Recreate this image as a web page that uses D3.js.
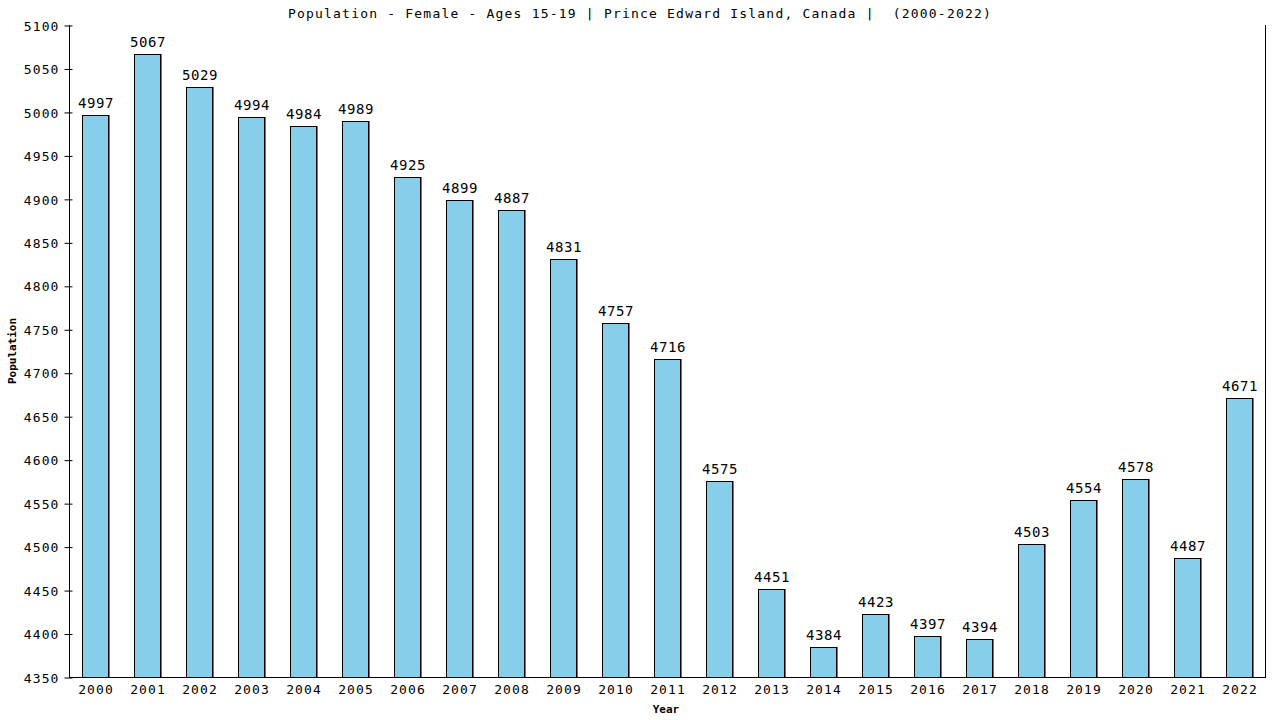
<!DOCTYPE html>
<html>
<head>
<meta charset="utf-8">
<script src="https://cdn.jsdelivr.net/npm/d3@7"></script>
<style>
  body { margin: 0; background: #fff; }
  text { font-family: "DejaVu Sans Mono", monospace; fill: #000; }
</style>
</head>
<body>
<script>
// data
var years = ["2000","2001","2002","2003","2004","2005","2006","2007","2008","2009","2010","2011",
             "2012","2013","2014","2015","2016","2017","2018","2019","2020","2021","2022"];
var population = [4997,5067,5029,4994,4984,4989,4925,4899,4887,4831,4757,4716,
                  4575,4451,4384,4423,4397,4394,4503,4554,4578,4487,4671];
var yTicks = [4350,4400,4450,4500,4550,4600,4650,4700,4750,4800,4850,4900,4950,5000,5050,5100];
var title = "Population - Female - Ages 15-19 | Prince Edward Island, Canada |  (2000-2022)";

var w = 1280, h = 720;
var pLeft = 69, pRight = 1265, pTop = 25, pBottom = 677;

var svg = d3.select("body").append("svg")
    .attr("width", w)
    .attr("height", h);

var x = d3.scaleBand()
    .domain(years)
    .range([pLeft, pRight])
    .paddingInner(0.5)
    .paddingOuter(0.25);

var y = d3.scaleLinear()
    .domain([4350, 5100])
    .range([pBottom, pTop]);

//title
svg.append("text")
    .attr("x", 640)
    .attr("y", 18)
    .attr("text-anchor", "middle")
    .style("font-size", "13px")
    .style("letter-spacing", "1.2px")
    .style("white-space", "pre")
    .text(title);

//bar shadows (thin blue edge on right/top)
svg.selectAll(".shadow")
    .data(population)
    .enter()
    .append("rect")
    .attr("class", "shadow")
    .attr("x", function(d, i){ return Math.round(x(years[i])) + 1.5; })
    .attr("y", function(d){ return Math.round(y(d)) - 0.5; })
    .attr("width", Math.round(x.bandwidth()))
    .attr("height", function(d){ return pBottom - Math.round(y(d)); })
    .style("fill", "#2f86b8")
    .attr("shape-rendering", "crispEdges");

//bars
svg.selectAll(".bar")
    .data(population)
    .enter()
    .append("rect")
    .attr("class", "bar")
    .attr("x", function(d, i){ return Math.round(x(years[i])) + 0.5; })
    .attr("y", function(d){ return Math.round(y(d)) + 0.5; })
    .attr("width", Math.round(x.bandwidth()))
    .attr("height", function(d){ return pBottom - Math.round(y(d)); })
    .style("fill", "#87ceeb")
    .style("stroke", "#000")
    .style("stroke-width", 1)
    .attr("shape-rendering", "crispEdges");

//value labels
svg.selectAll(".val")
    .data(population)
    .enter()
    .append("text")
    .attr("class", "val")
    .attr("x", function(d, i){ return x(years[i]) + x.bandwidth() / 2 + 1; })
    .attr("y", function(d){ return Math.round(y(d)) - 7; })
    .attr("text-anchor", "middle")
    .style("font-size", "14px")
    .style("letter-spacing", "0.6px")
    .text(function(d){ return d; });

//y axis
var yAxis = d3.axisLeft(y)
    .tickValues(yTicks)
    .tickSizeInner(5)
    .tickSizeOuter(0)
    .tickPadding(5)
    .tickFormat(d3.format("d"));

var gy = svg.append("g")
    .attr("transform", "translate(" + (pLeft + 0.5) + ",0.5)")
    .call(yAxis);
gy.select(".domain").remove();
gy.selectAll(".tick line").attr("x2", -5).attr("x1", 3).attr("stroke", "#000");
gy.selectAll(".tick text")
    .style("font-family", "DejaVu Sans Mono, monospace")
    .style("font-size", "13px")
    .style("letter-spacing", "1.1px")
    .attr("dy", "0.36em");

//x axis labels
var xAxis = d3.axisBottom(x).tickSize(0).tickPadding(8);
var gx = svg.append("g")
    .attr("transform", "translate(1," + pBottom + ")")
    .call(xAxis);
gx.select(".domain").remove();
gx.selectAll(".tick text")
    .style("font-family", "DejaVu Sans Mono, monospace")
    .style("font-size", "13px")
    .style("letter-spacing", "1.1px");

//frame lines: left, bottom, right
var frame = svg.append("g").attr("shape-rendering", "crispEdges").style("stroke", "#000");
frame.append("line").attr("x1", pLeft + 0.5).attr("x2", pLeft + 0.5).attr("y1", pTop).attr("y2", pBottom + 0.5);
frame.append("line").attr("x1", pLeft).attr("x2", pRight + 1).attr("y1", pBottom + 0.5).attr("y2", pBottom + 0.5);
frame.append("line").attr("x1", pRight + 0.5).attr("x2", pRight + 0.5).attr("y1", pTop).attr("y2", pBottom + 0.5);

//axis titles
svg.append("text")
    .attr("transform", "translate(16," + ((pTop + pBottom) / 2) + ") rotate(-90)")
    .attr("text-anchor", "middle")
    .style("font-size", "11px")
    .style("font-weight", "bold")
    .text("Population");

svg.append("text")
    .attr("x", 666)
    .attr("y", 713)
    .attr("text-anchor", "middle")
    .style("font-size", "11px")
    .style("font-weight", "bold")
    .text("Year");
</script>
</body>
</html>
